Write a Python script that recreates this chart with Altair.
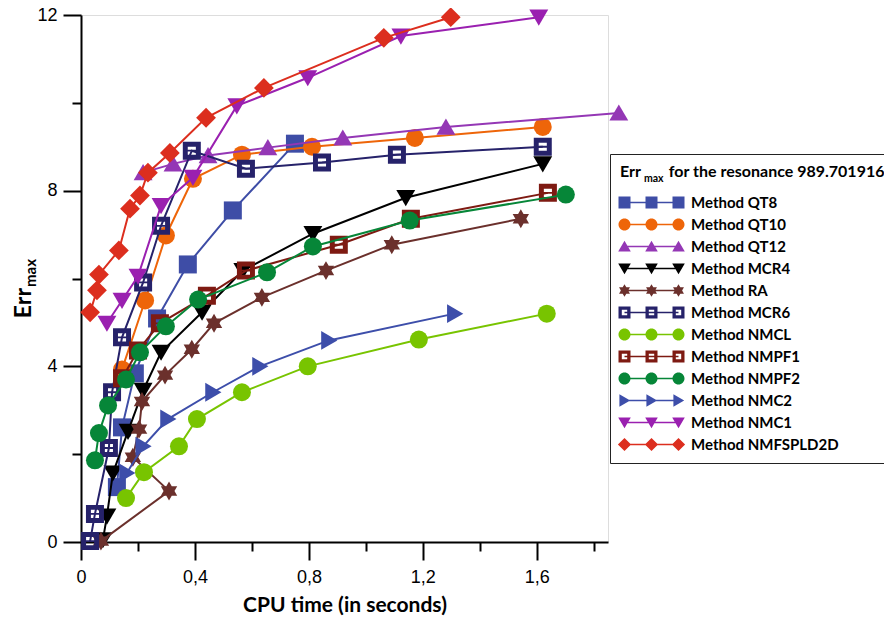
import altair as alt
import pandas as pd

# ---------------- data ----------------
methods = ["Method QT8", "Method QT10", "Method QT12", "Method MCR4", "Method RA",
           "Method MCR6", "Method NMCL", "Method NMPF1", "Method NMPF2", "Method NMC2",
           "Method NMC1", "Method NMFSPLD2D"]

QT8_x = [0.126, 0.144, 0.189, 0.267, 0.375, 0.533, 0.751]
QT8_y = [1.25, 2.61, 3.84, 5.09, 6.32, 7.55, 9.07]
QT10_x = [0.144, 0.225, 0.298, 0.393, 0.565, 0.811, 1.172, 1.621]
QT10_y = [3.93, 5.50, 6.98, 8.27, 8.82, 9.00, 9.20, 9.45]
QT12_x = [0.218, 0.323, 0.446, 0.656, 0.919, 1.281, 1.888]
QT12_y = [8.41, 8.61, 8.80, 8.98, 9.20, 9.45, 9.77]
MCR4_x = [0.077, 0.091, 0.112, 0.165, 0.218, 0.281, 0.425, 0.568, 0.814, 1.140, 1.621]
MCR4_y = [0.05, 0.59, 1.57, 2.52, 3.45, 4.32, 5.23, 6.18, 7.02, 7.84, 8.61]
RA_x = [0.070, 0.309, 0.182, 0.204, 0.214, 0.295, 0.389, 0.467, 0.635, 0.860, 1.091, 1.544]
RA_y = [0.02, 1.16, 1.93, 2.57, 3.20, 3.80, 4.39, 4.98, 5.57, 6.18, 6.77, 7.36]
MCR6_x = [0.032, 0.049, 0.098, 0.109, 0.144, 0.218, 0.281, 0.389, 0.579, 0.846, 1.109, 1.621]
MCR6_y = [0.02, 0.64, 2.14, 3.41, 4.66, 5.91, 7.20, 8.91, 8.50, 8.64, 8.82, 9.00]
NMCL_x = [0.158, 0.221, 0.344, 0.407, 0.565, 0.796, 1.186, 1.635]
NMCL_y = [1.00, 1.59, 2.18, 2.80, 3.41, 4.00, 4.61, 5.20]
NMPF1_x = [0.144, 0.200, 0.277, 0.442, 0.579, 0.905, 1.158, 1.639]
NMPF1_y = [3.73, 4.36, 4.98, 5.61, 6.18, 6.77, 7.36, 7.95]
NMPF2_x = [0.049, 0.063, 0.095, 0.158, 0.207, 0.298, 0.411, 0.653, 0.814, 1.154, 1.702]
NMPF2_y = [1.86, 2.48, 3.11, 3.70, 4.32, 4.91, 5.52, 6.14, 6.73, 7.32, 7.91]
NMC2_x = [0.161, 0.218, 0.305, 0.463, 0.628, 0.870, 1.312]
NMC2_y = [1.57, 2.18, 2.80, 3.41, 4.00, 4.59, 5.20]
NMC1_x = [0.091, 0.144, 0.200, 0.281, 0.393, 0.547, 0.796, 1.123, 1.607]
NMC1_y = [4.98, 5.50, 6.05, 7.66, 8.30, 9.93, 10.57, 11.52, 11.95]
NMFSPLD2D_x = [0.032, 0.056, 0.063, 0.133, 0.172, 0.207, 0.235, 0.312, 0.439, 0.642, 1.063, 1.298]
NMFSPLD2D_y = [5.23, 5.73, 6.09, 6.64, 7.59, 7.89, 8.41, 8.86, 9.66, 10.34, 11.48, 11.95]

series_x = [QT8_x, QT10_x, QT12_x, MCR4_x, RA_x, MCR6_x, NMCL_x, NMPF1_x, NMPF2_x, NMC2_x, NMC1_x, NMFSPLD2D_x]
series_y = [QT8_y, QT10_y, QT12_y, MCR4_y, RA_y, MCR6_y, NMCL_y, NMPF1_y, NMPF2_y, NMC2_y, NMC1_y, NMFSPLD2D_y]

x_ticks = [0, 0.2, 0.4, 0.6, 0.8, 1.0, 1.2, 1.4, 1.6, 1.8]
y_ticks = [0, 2, 4, 6, 8, 10, 12]

# ---------------- styles ----------------
colors = ["#3E4DA6", "#EE6509", "#9437B5", "#000000", "#6B302C", "#26226A",
          "#78C400", "#7E1A12", "#068638", "#3D4EAA", "#9A20B0", "#DC2E1E"]
kinds = ["square", "circle", "tri_up", "tri_down", "hex", "hollow",
         "circle", "hollow", "circle", "tri_right", "tri_down", "diamond"]


def f(v):
    return ("%.3f" % v).rstrip("0").rstrip(".")


def shape_path(kind, cx=0.0):
    if kind == "square":
        pts = [(-1, -1), (1, -1), (1, 1), (-1, 1)]
        return "M" + "L".join(f"{f(cx + a)},{f(b)}" for a, b in pts) + "Z"
    if kind == "circle":
        return (f"M{f(cx - 1)},0A1,1 0 1,1 {f(cx + 1)},0"
                f"A1,1 0 1,1 {f(cx - 1)},0Z")
    if kind == "tri_up":
        pts = [(0, -0.95), (1.05, 0.85), (-1.05, 0.85)]
    elif kind == "tri_down":
        pts = [(-1.05, -0.85), (1.05, -0.85), (0, 0.95)]
    elif kind == "tri_right":
        pts = [(-0.85, -1.05), (0.95, 0), (-0.85, 1.05)]
    elif kind == "diamond":
        pts = [(0, -1.1), (1.1, 0), (0, 1.1), (-1.1, 0)]
    elif kind == "hex":
        raw = [(0, -1), (0.289, -0.5), (0.866, -0.5), (0.577, 0), (0.866, 0.5), (0.289, 0.5),
               (0, 1), (-0.289, 0.5), (-0.866, 0.5), (-0.577, 0), (-0.866, -0.5), (-0.289, -0.5)]
        pts = [(a * 1.05, b * 1.05) for a, b in raw]
    elif kind == "hollow":
        outer = [(-1, -1), (1, -1), (1, 1), (-1, 1)]
        hole = [(-0.45, -0.45), (-0.45, 0.45), (0.45, 0.45), (0.45, -0.45)]
        p = "M" + "L".join(f"{f(cx + a)},{f(b)}" for a, b in outer) + "Z"
        p += "M" + "L".join(f"{f(cx + a)},{f(b)}" for a, b in hole) + "Z"
        return p
    return "M" + "L".join(f"{f(cx + a)},{f(b)}" for a, b in pts) + "Z"


def marker_path(kind):
    if kind == "circle":
        return "circle"
    p = shape_path(kind)
    if kind == "hollow":
        p += "M-0.45,-0.1L0.45,-0.1L0.45,0.1L-0.45,0.1Z"
    return p


def legend_glyph(kind):
    p = "M-4.5,-0.13L4.5,-0.13L4.5,0.13L-4.5,0.13Z"
    for cx in (-4.5, 0.0, 4.5):
        p += shape_path(kind, cx)
    return p


marker_paths = [marker_path(k) for k in kinds]
legend_paths = [legend_glyph(k) for k in kinds]

rows = []
for m, xs, ys in zip(methods, series_x, series_y):
    for i, (xv, yv) in enumerate(zip(xs, ys)):
        rows.append({"method": m, "idx": i, "x": xv, "y": yv})
df = pd.DataFrame(rows)

TICK_FONT = "Liberation Sans"
TITLE_FONT = "Lato"

x_major = "abs(datum.value/0.4 - round(datum.value/0.4)) < 0.01"
x_axis = alt.Axis(
    values=x_ticks, grid=False, domainColor="black", domainWidth=2,
    tickColor="black", tickWidth=2,
    tickSize={"condition": {"test": x_major, "value": 18}, "value": 9},
    labelExpr=f"{x_major} ? (datum.value == 0 ? '0' : replace(format(datum.value, '.1f'), '.', ',')) : ''",
    labelFont=TICK_FONT, labelFontSize=18, labelColor="black", labelPadding=8,
    labelFlush=False, labelOverlap=False,
    title="CPU time (in seconds)", titleFont=TITLE_FONT, titleFontSize=21,
    titleFontWeight="bold", titleColor="black", titleY=69, titleBaseline="alphabetic",
)
y_major = "datum.value % 4 == 0"
y_axis = alt.Axis(
    values=y_ticks, grid=False, domainColor="black", domainWidth=2,
    tickColor="black", tickWidth=2,
    tickSize={"condition": {"test": y_major, "value": 18}, "value": 9},
    labelExpr=f"{y_major} ? format(datum.value, 'd') : ''",
    labelFont=TICK_FONT, labelFontSize=18, labelColor="black", labelPadding=6,
    labelFlush=False, labelOverlap=False, title=None,
)

x_enc = alt.X("x:Q", scale=alt.Scale(domain=[0, 1.85], nice=False, zero=False), axis=x_axis)
y_enc = alt.Y("y:Q", scale=alt.Scale(domain=[0, 12], nice=False, zero=False), axis=y_axis)

layers = []
for m, c, mp in zip(methods, colors, marker_paths):
    base = alt.Chart(df).transform_filter(alt.datum.method == m)
    layers.append(base.mark_line(color=c, strokeWidth=2).encode(x=x_enc, y=y_enc, order="idx:Q"))
    layers.append(base.mark_point(shape=mp, filled=True, color=c, size=324, opacity=1,
                                  strokeWidth=0).encode(x=x_enc, y=y_enc))

legend_def = alt.Legend(
    orient="none", legendX=529, legendY=139,
    title="Err\u2002\u2002\u2002\u00a0for the resonance 989.701916",
    titleFont=TITLE_FONT, titleFontSize=16, titleFontWeight="bold", titleColor="black",
    titlePadding=15, titleLimit=400,
    labelFont=TITLE_FONT, labelFontSize=15, labelFontWeight="bold", labelColor="black",
    labelOffset=32, symbolOffset=24, symbolSize=144, symbolStrokeWidth=0,
    rowPadding=6, padding=10, strokeColor="#222222", labelLimit=300,
)
legend_layer = alt.Chart(df).transform_filter("false").mark_point(filled=True, opacity=1).encode(
    color=alt.Color("method:N", scale=alt.Scale(domain=methods, range=colors), legend=legend_def),
    shape=alt.Shape("method:N", scale=alt.Scale(domain=methods, range=legend_paths), legend=legend_def),
)
layers.append(legend_layer)

one = pd.DataFrame({"a": [0]})
txt_err = alt.Chart(one).mark_text(text="Err", angle=270, align="right", baseline="alphabetic",
                                   font=TITLE_FONT, fontSize=23, fontWeight="bold", color="black"
                                   ).encode(x=alt.value(-50), y=alt.value(273))
txt_max = alt.Chart(one).mark_text(text="max", angle=270, align="left", baseline="alphabetic",
                                   font=TITLE_FONT, fontSize=15, fontWeight="bold", color="black"
                                   ).encode(x=alt.value(-45), y=alt.value(272))
txt_leg_max = alt.Chart(one).mark_text(text="max", align="left", baseline="alphabetic",
                                       font=TITLE_FONT, fontSize=10.5, fontWeight="bold", color="black"
                                       ).encode(x=alt.value(563), y=alt.value(167))
layers += [txt_err, txt_max, txt_leg_max]

chart = alt.layer(*layers).properties(
    width=527, height=527,
    autosize=alt.AutoSizeParams(type="none"),
    padding={"left": 73, "top": 7, "right": 276, "bottom": 77},
).configure_view(stroke=None).configure(background="white")

chart.save("out.html", embed_options={"renderer": "svg", "actions": False})
